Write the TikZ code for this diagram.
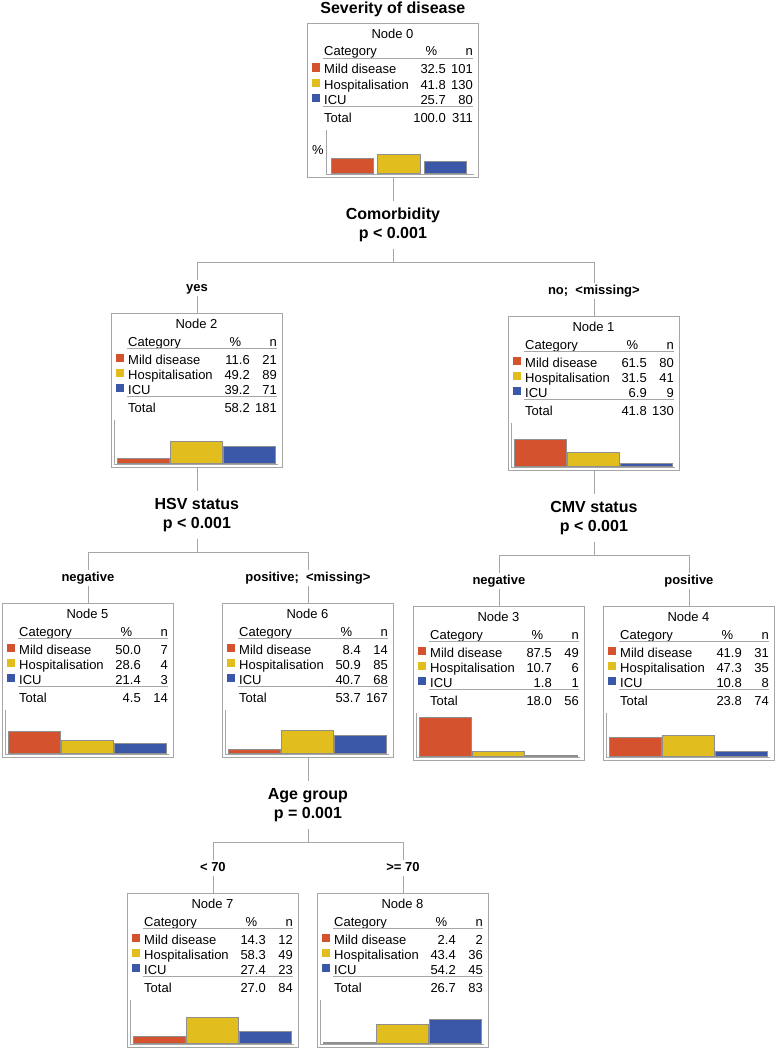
\documentclass[tikz,border=0pt]{standalone}
\usepackage{fontspec}
\setmainfont{Liberation Sans}
\usetikzlibrary{positioning}
\definecolor{MildRed}{HTML}{D5522F}
\definecolor{HospYellow}{HTML}{E2BD1E}
\definecolor{IcuBlue}{HTML}{3B57A8}
\definecolor{FrameGray}{HTML}{A6A6A6}
\definecolor{BarEdge}{HTML}{8F8F8F}
\colorlet{cat1}{MildRed}
\colorlet{cat2}{HospYellow}
\colorlet{cat3}{IcuBlue}
\tikzset{
  treebox/.style={draw=FrameGray, line width=0.8pt, fill=white, anchor=north west, minimum width=171pt, minimum height=154pt, inner sep=0pt},
  celltext/.style={font=\fontsize{13}{15}\selectfont, inner sep=0pt},
  titlelabel/.style={font=\fontsize{16}{19}\selectfont\bfseries, inner sep=0pt},
  splitlabel/.style={font=\fontsize{16}{19}\selectfont\bfseries, align=center, inner xsep=2pt, inner ysep=7pt},
  branchlabel/.style={font=\fontsize{13}{15}\selectfont\bfseries, text height=9.5pt, text depth=3pt, inner xsep=2pt, inner ysep=1.5pt},
  connector/.style={draw=FrameGray, line width=0.8pt},
  tablerule/.style={draw=FrameGray, line width=0.8pt},
  axisline/.style={draw=FrameGray, line width=0.8pt},
  catbar/.style={draw=BarEdge, line width=0.5pt}
}
% bar chart geometry inside a node box
\newcommand{\axisx}{3.5}
\newcommand{\barleft}{6}
\newcommand{\barstep}{53.3}
\newcommand{\barwidth}{51.8}
% #1 name, #2 x, #3 y, #4 node number, #5 rows pc/n, #6 total pc, #7 total n
\newcommand{\catnode}[7]{%
  \begin{scope}[shift={(#2,#3)}]
    \node[treebox] (#1) at (0,0) {};
    \node[celltext, anchor=base] (#1-head) at (85.5,15) {Node #4};
    \node[celltext, anchor=base west] (#1-cat) at (17,33) {Category};
    \node[celltext, anchor=base] (#1-pchead) at (124.5,33) {\%};
    \node[celltext, anchor=base east] (#1-nhead) at (166,33) {n};
    \draw[tablerule] (15.5,35.3) -- (166,35.3);
    \foreach \pc/\cnt [count=\i] in {#5} {
      \pgfmathsetmacro\rowy{36+15*\i}
      \fill[cat\i] (5,\rowy-10.5) rectangle (13,\rowy-2.2);
      \node[celltext, anchor=base west] (#1-lab\i) at (17,\rowy) {\ifcase\i\relax\or Mild disease\or Hospitalisation\or ICU\fi};
      \node[celltext, anchor=base east] (#1-pc\i) at (139,\rowy) {\pc};
      \node[celltext, anchor=base east] (#1-n\i) at (166,\rowy) {\cnt};
      \pgfmathsetmacro\barx{\barleft+(\i-1)*\barstep}
      \filldraw[catbar, fill=cat\i] (\barx,150) rectangle (\barx+\barwidth,150-0.44*\pc);
    }
    \draw[tablerule] (15.5,83.7) -- (166,83.7);
    \node[celltext, anchor=base west] (#1-tot) at (17,99.7) {Total};
    \node[celltext, anchor=base east] (#1-totpc) at (139,99.7) {#6};
    \node[celltext, anchor=base east] (#1-totn) at (166,99.7) {#7};
    \draw[axisline] (\axisx,107) -- (\axisx,151) -- (167,151);
  \end{scope}}

\begin{document}
\begin{tikzpicture}[x=1pt, y=-1pt]
\useasboundingbox (0,0) rectangle (775,1049);

% root node
\begin{scope}
  \renewcommand{\axisx}{19}\renewcommand{\barleft}{24}
  \renewcommand{\barstep}{46.5}\renewcommand{\barwidth}{42.5}
  \catnode{n0}{307}{23}{0}{32.5/101, 41.8/130, 25.7/80}{100.0}{311}
  \node[celltext] (n0-axis) at (318,150) {\%};
\end{scope}
\node[titlelabel, above=6pt of n0] (title) {Severity of disease};

% split on comorbidity
\node[splitlabel, below=23pt of n0] (comorb) {Comorbidity\\p < 0.001};
\coordinate[below=85pt of n0] (fork0);
\draw[connector] (n0) -- (comorb);
\draw[connector] (comorb) -- (fork0);

\catnode{n2}{111}{313}{2}{11.6/21, 49.2/89, 39.2/71}{58.2}{181}
\catnode{n1}{508}{316}{1}{61.5/80, 31.5/41, 6.9/9}{41.8}{130}
\node[branchlabel, above=17pt of n2] (yes) {yes};
\node[branchlabel, above=17pt of n1] (nomiss) {no;~~<missing>};
\draw[connector] (yes.north) |- (fork0) -| (nomiss.north);
\draw[connector] (yes) -- (n2);
\draw[connector] (nomiss) -- (n1);

% split on HSV status
\node[splitlabel, below=23pt of n2] (hsv) {HSV status\\p < 0.001};
\coordinate[below=85pt of n2] (fork2);
\draw[connector] (n2) -- (hsv);
\draw[connector] (hsv) -- (fork2);

\catnode{n5}{2}{603}{5}{50.0/7, 28.6/4, 21.4/3}{4.5}{14}
\catnode{n6}{222}{603}{6}{8.4/14, 50.9/85, 40.7/68}{53.7}{167}
\node[branchlabel, above=17pt of n5] (hsvneg) {negative};
\node[branchlabel, above=17pt of n6] (hsvpos) {positive;~~<missing>};
\draw[connector] (hsvneg.north) |- (fork2) -| (hsvpos.north);
\draw[connector] (hsvneg) -- (n5);
\draw[connector] (hsvpos) -- (n6);

% split on CMV status
\node[splitlabel, below=23pt of n1] (cmv) {CMV status\\p < 0.001};
\coordinate[below=85pt of n1] (fork1);
\draw[connector] (n1) -- (cmv);
\draw[connector] (cmv) -- (fork1);

\catnode{n3}{413}{606}{3}{87.5/49, 10.7/6, 1.8/1}{18.0}{56}
\catnode{n4}{603}{606}{4}{41.9/31, 47.3/35, 10.8/8}{23.8}{74}
\node[branchlabel, above=17pt of n3] (cmvneg) {negative};
\node[branchlabel, above=17pt of n4] (cmvpos) {positive};
\draw[connector] (cmvneg.north) |- (fork1) -| (cmvpos.north);
\draw[connector] (cmvneg) -- (n3);
\draw[connector] (cmvpos) -- (n4);

% split on age group
\node[splitlabel, below=23pt of n6] (age) {Age group\\p = 0.001};
\coordinate[below=85pt of n6] (fork6);
\draw[connector] (n6) -- (age);
\draw[connector] (age) -- (fork6);

\catnode{n7}{127}{893}{7}{14.3/12, 58.3/49, 27.4/23}{27.0}{84}
\catnode{n8}{317}{893}{8}{2.4/2, 43.4/36, 54.2/45}{26.7}{83}
\node[branchlabel, above=17pt of n7] (young) {< 70};
\node[branchlabel, above=17pt of n8] (old) {>= 70};
\draw[connector] (young.north) |- (fork6) -| (old.north);
\draw[connector] (young) -- (n7);
\draw[connector] (old) -- (n8);
\end{tikzpicture}
\end{document}
